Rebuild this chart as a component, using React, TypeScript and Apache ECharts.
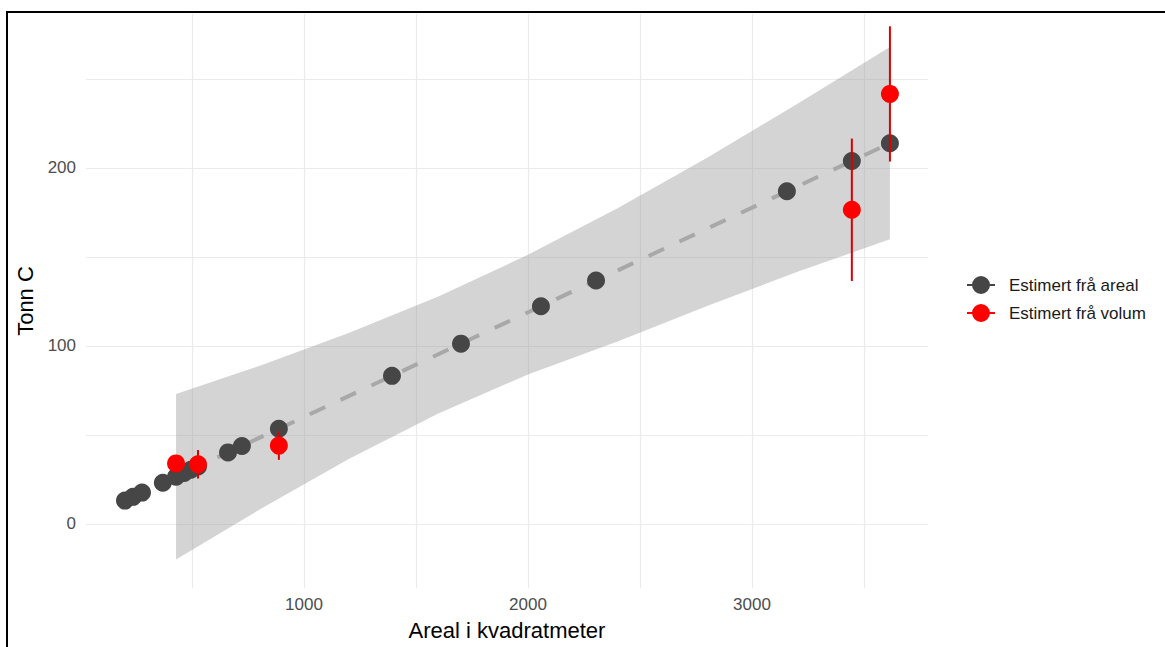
import React, { useEffect, useRef } from "react";
import * as echarts from "echarts";

// Grey points: estimated from area
const arealX = [201, 237, 277, 370, 429, 465, 495, 527, 661, 723, 888, 1393, 1701, 2058, 2304, 3156, 3446, 3616];
const arealY = [13.1, 15.2, 17.6, 23.1, 26.5, 28.6, 30.4, 32.3, 40.2, 43.8, 53.5, 83.2, 101.3, 122.3, 136.8, 186.9, 203.9, 213.9];

// Red points: estimated from volume, with error half-widths
const volumX = [429, 527, 888, 3446, 3616];
const volumY = [34, 33.5, 44, 176.5, 241.6];
const volumErr = [2, 8, 8, 40, 38];

// Fitted line (dashed)
const fitX = [201, 3616];
const fitY = [13.1, 213.9];

// Confidence ribbon
const ribbonX = [429, 800, 1200, 1600, 2000, 2400, 2800, 3200, 3616];
const ribbonLo = [-20, 7.9, 36.5, 62.0, 84.0, 102.5, 122.5, 141.5, 159.9];
const ribbonHi = [73, 88.7, 107.3, 127.8, 151.2, 177.3, 205.8, 235.8, 267.9];

// Axis ticks
const xGridTicks = [500, 1000, 1500, 2000, 2500, 3000, 3500];
const xLabelTicks = [1000, 2000, 3000];
const yGridTicks = [0, 50, 100, 150, 200, 250];
const yLabelTicks = [0, 100, 200];

const FONT = "'Liberation Sans', Arial, Helvetica, sans-serif";
const GREY = "#464646";
const RED = "#ff0000";

const iconPath =
  "path://M0,8h28v2h-28z M5,9a9,9 0 1,1 18,0a9,9 0 1,1 -18,0z";

export default function App() {
  const ref = useRef<HTMLDivElement>(null);

  useEffect(() => {
    if (!ref.current) return;
    const chart = echarts.init(ref.current, undefined, { renderer: "svg" });
    const option: any = {
      animation: false,
      backgroundColor: "#ffffff",
      textStyle: { fontFamily: FONT },
      grid: { left: 86, top: 14, width: 842, height: 574, containLabel: false },
      xAxis: {
        type: "value",
        min: 27,
        max: 3786,
        name: "Areal i kvadratmeter",
        nameLocation: "middle",
        nameGap: 31,
        nameTextStyle: { fontSize: 22, color: "#000", fontFamily: FONT, verticalAlign: "top" },
        axisLine: { show: false },
        axisTick: { show: false, customValues: xGridTicks },
        axisLabel: {
          customValues: xLabelTicks,
          color: "#4d4d4d",
          fontSize: 17,
          margin: 8,
          fontFamily: FONT,
          formatter: (v: number) => String(Math.round(v)),
        },
        splitLine: { show: true, lineStyle: { color: "#ebebeb", width: 1.2 } },
      },
      yAxis: {
        type: "value",
        min: -36,
        max: 286.5,
        name: "Tonn C",
        nameLocation: "middle",
        nameGap: 43,
        nameTextStyle: { fontSize: 22, color: "#000", fontFamily: FONT },
        axisLine: { show: false },
        axisTick: { show: false, customValues: yGridTicks },
        axisLabel: {
          customValues: yLabelTicks,
          color: "#4d4d4d",
          fontSize: 17,
          margin: 10,
          fontFamily: FONT,
          formatter: (v: number) => String(Math.round(v)),
        },
        splitLine: { show: true, lineStyle: { color: "#ebebeb", width: 1.2 } },
      },
      legend: {
        orient: "vertical",
        left: 967,
        top: 276,
        padding: 0,
        itemWidth: 28,
        itemHeight: 18,
        itemGap: 10,
        textStyle: { fontSize: 17, color: "#1a1a1a", fontFamily: FONT, padding: [0, 0, 0, 9], lineHeight: 18 },
        data: [
          { name: "Estimert frå areal", icon: iconPath },
          { name: "Estimert frå volum", icon: iconPath },
        ],
      },
      graphic: [
        {
          type: "rect",
          shape: { x: 7, y: 12, width: 1400, height: 900 },
          style: { fill: "none", stroke: "#000", lineWidth: 2 },
          silent: true,
          z: 100,
        },
      ],
      series: [
        {
          type: "custom",
          name: "ribbon",
          z: 1,
          silent: true,
          data: [[ribbonX[0], ribbonLo[0], ribbonHi[0]]],
          renderItem: (params: any, api: any) => {
            if (params.dataIndex !== 0) return null;
            const upper = ribbonX.map((x, i) => api.coord([x, ribbonHi[i]]));
            const lower = ribbonX.map((x, i) => api.coord([x, ribbonLo[i]])).reverse();
            return {
              type: "polygon",
              shape: { points: upper.concat(lower) },
              style: { fill: "rgba(153,153,153,0.42)", stroke: "none" },
            };
          },
        },
        {
          type: "line",
          name: "fit",
          z: 2,
          silent: true,
          showSymbol: false,
          data: fitX.map((x, i) => [x, fitY[i]]),
          lineStyle: { color: "#a8a8a8", width: 4, type: [17, 17] },
        },
        {
          type: "scatter",
          name: "Estimert frå areal",
          z: 3,
          symbolSize: 18,
          itemStyle: { color: GREY, opacity: 1 },
          data: arealX.map((x, i) => [x, arealY[i]]),
        },
        {
          type: "custom",
          name: "errbar",
          z: 4,
          silent: true,
          data: volumX.map((x, i) => [x, volumY[i], volumErr[i]]),
          renderItem: (params: any, api: any) => {
            const x = api.value(0);
            const y = api.value(1);
            const e = api.value(2);
            const p1 = api.coord([x, y - e]);
            const p2 = api.coord([x, y + e]);
            return {
              type: "line",
              shape: { x1: p1[0], y1: p1[1], x2: p2[0], y2: p2[1] },
              style: { stroke: "#dd0000", lineWidth: 2 },
            };
          },
        },
        {
          type: "scatter",
          name: "Estimert frå volum",
          z: 5,
          symbolSize: 18,
          itemStyle: { color: RED, opacity: 1 },
          data: volumX.map((x, i) => [x, volumY[i]]),
        },
      ],
    };
    chart.setOption(option);
    return () => chart.dispose();
  }, []);

  return (
    <div
      ref={ref}
      style={{ position: "absolute", left: 0, top: 0, width: 1165, height: 647 }}
    />
  );
}
